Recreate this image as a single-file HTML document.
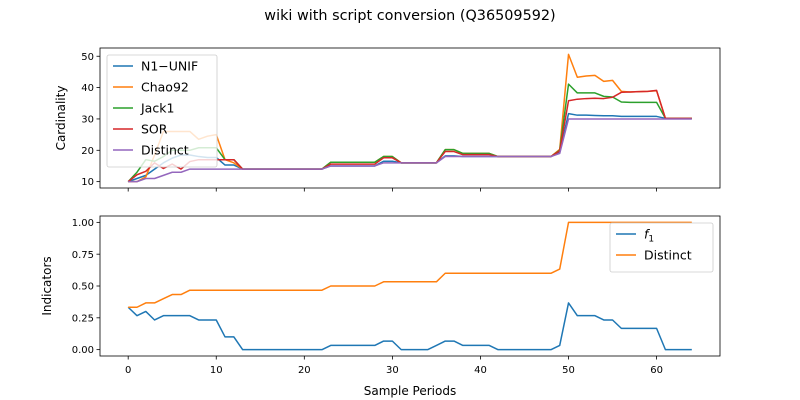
<!DOCTYPE html>
<html><head><meta charset="utf-8"><style>
body{margin:0;background:#fff}
svg{display:block;font-family:"DejaVu Sans","Liberation Sans",sans-serif}
</style></head><body>
<svg id="fig" width="800" height="400" viewBox="0 0 800 400">
<rect width="800" height="400" fill="#fff"/>
<text x="410" y="20" font-size="14.4" text-anchor="middle">wiki with script conversion (Q36509592)</text>
<g id="top"></g>
<g id="bot"></g>
<text x="410" y="395" font-size="12" text-anchor="middle">Sample Periods</text>
<text transform="translate(65,118) rotate(-90)" font-size="12" text-anchor="middle">Cardinality</text>
<text transform="translate(51,286) rotate(-90)" font-size="12" text-anchor="middle">Indicators</text>
</svg>
<script>
const xs = Array.from({length:65},(_, i)=>i);
const n1unif = [10,11,12,14,16,17.5,18.5,18.5,18,17.7,17.7,15.3,15.3,14,14,14,14,14,14,14,14,14,14,15,15,15,15,15,15,16.5,16.5,16,16,16,16,16,18.2,18.2,18,18,18,18,18,18,18,18,18,18,18,19.3,31.7,31.2,31.2,31.1,31,31,30.8,30.8,30.8,30.8,30.8,30.2,30.2,30.2,30.2];
const chao92 = [10,10,11.5,18.5,26,26,26,26,23.5,24.5,25,17,16,14,14,14,14,14,14,14,14,14,14,16.2,16.2,16.2,16.2,16.2,16.2,18,18,16,16,16,16,16,20.2,20.2,19,19,19,19,18,18,18,18,18,18,18,20.3,50.6,43.3,43.7,43.9,42,42.3,38.8,38.6,38.7,38.8,39,30.2,30.2,30.2,30.2];
const jack1 = [10,13,17,16.5,18,20,20,20,20.8,20.8,20.8,17,17,14,14,14,14,14,14,14,14,14,14,16.2,16.2,16.2,16.2,16.2,16.2,18,18,16,16,16,16,16,20.2,20.2,19,19,19,19,18,18,18,18,18,18,18,20,41.1,38.3,38.3,38.3,37.2,37,35.4,35.3,35.3,35.3,35.3,30.2,30.2,30.2,30.2];
const sor = [10,12.2,13.3,16,14.2,15.6,14,16.4,17,17,17,17,17,14,14,14,14,14,14,14,14,14,14,15.6,15.6,15.6,15.6,15.6,15.6,17.6,17.6,16,16,16,16,16,19.6,19.6,18.6,18.6,18.6,18.6,18,18,18,18,18,18,18,19.8,35.8,36.3,36.5,36.6,36.5,36.9,38.5,38.6,38.7,38.8,39.1,30.2,30.2,30.2,30.2];
const distinct = [10,10,11,11,12,13,13,14,14,14,14,14,14,14,14,14,14,14,14,14,14,14,14,15,15,15,15,15,15,16,16,16,16,16,16,16,18,18,18,18,18,18,18,18,18,18,18,18,18,19,30,30,30,30,30,30,30,30,30,30,30,30,30,30,30];
const f1 = [0.333,0.267,0.3,0.233,0.267,0.267,0.267,0.267,0.233,0.233,0.233,0.1,0.1,0,0,0,0,0,0,0,0,0,0,0.033,0.033,0.033,0.033,0.033,0.033,0.067,0.067,0,0,0,0,0.033,0.067,0.067,0.033,0.033,0.033,0.033,0,0,0,0,0,0,0,0.033,0.367,0.267,0.267,0.267,0.233,0.233,0.167,0.167,0.167,0.167,0.167,0,0,0,0];
const distinctRatio = [0.333,0.333,0.367,0.367,0.4,0.433,0.433,0.467,0.467,0.467,0.467,0.467,0.467,0.467,0.467,0.467,0.467,0.467,0.467,0.467,0.467,0.467,0.467,0.5,0.5,0.5,0.5,0.5,0.5,0.533,0.533,0.533,0.533,0.533,0.533,0.533,0.6,0.6,0.6,0.6,0.6,0.6,0.6,0.6,0.6,0.6,0.6,0.6,0.6,0.633,1,1,1,1,1,1,1,1,1,1,1,1,1,1,1];
const xTicks = [0,10,20,30,40,50,60];
const topTicks = [10,20,30,40,50];
const botTicks = [0,0.25,0.5,0.75,1.0];
const botTickLabels = ["0.00","0.25","0.50","0.75","1.00"];

const NS="http://www.w3.org/2000/svg";
function mk(tag,attrs,parent){const e=document.createElementNS(NS,tag);for(const k in attrs)e.setAttribute(k,attrs[k]);parent.appendChild(e);return e;}
const L=100,R=720;
const xMin=-3.2,xMax=67.2;
const X=v=>L+(v-xMin)/(xMax-xMin)*(R-L);
function yScale(top,bot,lo,hi){return v=>bot-(v-lo)/(hi-lo)*(bot-top);}
const allTop=[].concat(n1unif,chao92,jack1,sor,distinct);
const tMin=Math.min(...allTop),tMax=Math.max(...allTop),tPad=(tMax-tMin)*0.05;
const YT=yScale(48,188,tMin-tPad,tMax+tPad);
const allBot=[].concat(f1,distinctRatio);
const bMin=Math.min(...allBot),bMax=Math.max(...allBot),bPad=(bMax-bMin)*0.05;
const YB=yScale(216,356,bMin-bPad,bMax+bPad);

function axes(g,top,bot,Y,ticks,labels,showXLabels){
  for(const t of xTicks){
    const tk=mk('line',{x1:X(t),x2:X(t),y1:bot,y2:bot+3.5,stroke:'#000','stroke-width':0.8},g);
    
    
    if(showXLabels){const tx=mk('text',{x:X(t),y:bot+17,'font-size':10,'text-anchor':'middle'},g);tx.textContent=t;
      
      }
  }
  ticks.forEach((t,i)=>{
    const tk=mk('line',{x1:L-3.5,x2:L,y1:Y(t),y2:Y(t),stroke:'#000','stroke-width':0.8},g);
    
    
    const tx=mk('text',{x:L-6,y:Y(t)+3.6,'font-size':10,'text-anchor':'end'},g);tx.textContent=labels[i];
    
    
  });
}
function line(g,data,Y,color,name){
  const p=mk('polyline',{points:data.map((v,i)=>X(xs[i])+','+Y(v)).join(' '),fill:'none',stroke:color,'stroke-width':1.5,'stroke-linejoin':'round'},g);
  
  
}
function frame(g,top,bot){
  const f=mk('rect',{x:L,y:top,width:R-L,height:bot-top,fill:'none',stroke:'#000','stroke-width':0.8},g);
  
  
}
function legend(g,x,y,w,items){
  const h=items.length*21+7;
  const b=mk('rect',{x:x,y:y,width:w,height:h,rx:2,fill:'#fff','fill-opacity':0.8,stroke:'#ccc','stroke-width':0.8},g);
  
  
  items.forEach((it,i)=>{
    const cy=y+11+i*21;
    const l=mk('line',{x1:x+6,x2:x+26,y1:cy,y2:cy,stroke:it[1],'stroke-width':1.5},g);
    
    
    const t=mk('text',{x:x+34,y:cy+4.5,'font-size':12.5},g);
    t.innerHTML=it[0];
    
    
  });
}
const gt=document.getElementById('top'),gb=document.getElementById('bot');
const colors=['#1f77b4','#ff7f0e','#2ca02c','#d62728','#9467bd'];
line(gt,n1unif,YT,colors[0],'n1-unif-line');
line(gt,chao92,YT,colors[1],'chao92-line');
line(gt,jack1,YT,colors[2],'jack1-line');
line(gt,sor,YT,colors[3],'sor-line');
line(gt,distinct,YT,colors[4],'distinct-line');
frame(gt,48,188);
axes(gt,48,188,YT,topTicks,topTicks.map(String),false);
legend(gt,107,55,110,[['N1\u2212UNIF',colors[0]],['Chao92',colors[1]],['Jack1',colors[2]],['SOR',colors[3]],['Distinct',colors[4]]]);
line(gb,f1,YB,colors[0],'f1-line');
line(gb,distinctRatio,YB,colors[1],'distinct-ratio-line');
frame(gb,216,356);
axes(gb,216,356,YB,botTicks,botTickLabels,true);
legend(gb,610,223,103,[['<tspan font-style="italic">f</tspan><tspan font-size="9" dy="3">1</tspan>',colors[0]],['Distinct',colors[1]]]);
</script>
</body></html>
